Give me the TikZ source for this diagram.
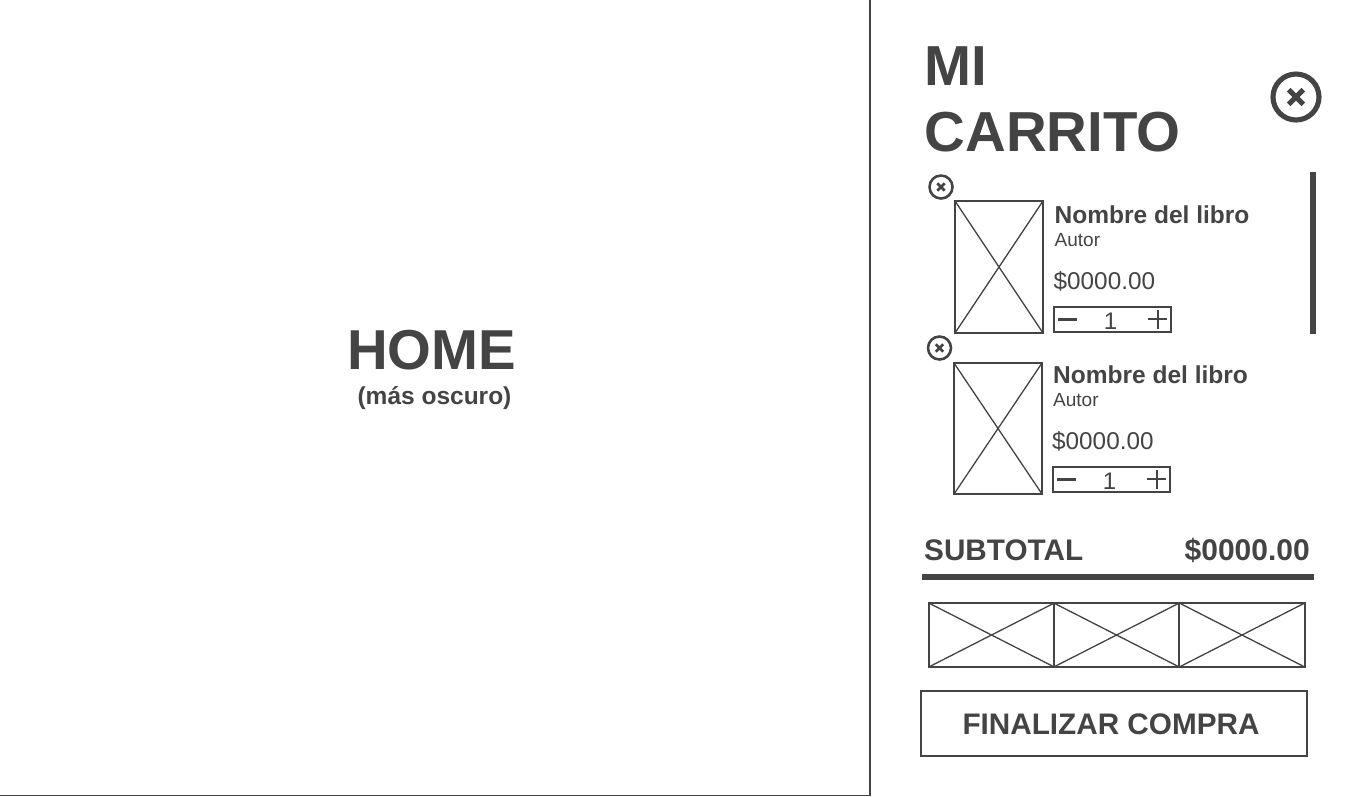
\documentclass[tikz,border=0pt]{standalone}
\usepackage{xcolor}
\usepackage{fontspec}
\setmainfont{Liberation Sans}
\usetikzlibrary{positioning}
\definecolor{wiregray}{HTML}{444444}

\tikzset{
  label/.style={inner sep=0pt, text=wiregray, font=\fontsize{#1}{#1}\selectfont},
  boldlabel/.style={inner sep=0pt, text=wiregray, font=\fontsize{#1}{#1}\selectfont\bfseries},
  imgbox/.style={draw=wiregray, line width=1.8pt, inner sep=0pt, path picture={
    \draw[wiregray, line width=1.3pt] (path picture bounding box.north west) -- (path picture bounding box.south east);
    \draw[wiregray, line width=1.3pt] (path picture bounding box.south west) -- (path picture bounding box.north east);}},
  closeicon/.style={circle, draw=wiregray, line width=#1/9*1pt, minimum size=#1*1pt, inner sep=0pt, path picture={
    \draw[wiregray, line width=#1/9*1pt] ([shift={(-#1*.16,-#1*.16)}]path picture bounding box.center) -- ([shift={(#1*.16,#1*.16)}]path picture bounding box.center);
    \draw[wiregray, line width=#1/9*1pt] ([shift={(-#1*.16,#1*.16)}]path picture bounding box.center) -- ([shift={(#1*.16,-#1*.16)}]path picture bounding box.center);}},
  qtybox/.style={draw=wiregray, line width=1.8pt, minimum width=117pt, minimum height=25pt, inner sep=0pt},
  bar/.style={fill=wiregray, inner sep=0pt, minimum width=#1},
}

\begin{document}
\begin{tikzpicture}[x=1pt, y=-1pt]
  \useasboundingbox[fill=white] (0,0) rectangle (1362,796);

  % home panel
  \coordinate (paneltop) at (870,0);
  \coordinate (panelcorner) at (870,795.5);
  \coordinate (panelbottom) at (870,796);
  \coordinate (panelleft) at (0,795.5);
  \draw[wiregray, line width=2pt] (paneltop) -- (panelbottom);
  \draw[wiregray, line width=1.2pt] (panelleft) -- (panelcorner);
  \node[boldlabel=56.3] (hometitle) at (431.5,350) {HOME};
  \node[boldlabel=24.5] (homenote) at (434.5,398.5) {(más oscuro)};

  % header
  \node[inner sep=0pt, text=wiregray, font=\fontsize{56.4}{66}\selectfont\bfseries, anchor=base west, align=left] (carttitle) at (924.5,151)
    {MI\\CARRITO};
  \node[closeicon=46] (closecart) at (1296,97) {};

  % first book
  \node[closeicon=23] (closeA) at (941,187) {};
  \node[imgbox, minimum width=88pt, minimum height=132pt] (coverA) at (999,267) {};
  \node[boldlabel=24.5, anchor=base west] (nameA) at (1054.5,223) {Nombre del libro};
  \node[label=19, anchor=base west] (authorA) at (1054.5,246) {Autor};
  \node[label=24.3, anchor=base west] (priceA) at (1053.5,289) {\$0000.00};
  \node[qtybox] (qtyA) at (1112.5,319.5) {};
  \node[label=24] (countA) at (1110.5,321) {1};
  \draw[wiregray, line width=3pt] ([xshift=5pt, yshift=0.5pt]qtyA.west) -- ([xshift=24pt, yshift=0.5pt]qtyA.west);
  \draw[wiregray, line width=2pt] ([xshift=-23.5pt, yshift=0.5pt]qtyA.east) -- ([xshift=-4.5pt, yshift=0.5pt]qtyA.east);
  \draw[wiregray, line width=2pt] ([xshift=-14pt, yshift=-9pt]qtyA.east) -- ([xshift=-14pt, yshift=10pt]qtyA.east);
  \node[bar=6pt, minimum height=162pt] (scrollbar) at (1313,253) {};

  % second book
  \node[closeicon=23] (closeB) at (939.5,348) {};
  \node[imgbox, minimum width=88pt, minimum height=131pt] (coverB) at (998,428.5) {};
  \node[boldlabel=24.5, anchor=base west] (nameB) at (1053,383) {Nombre del libro};
  \node[label=19, anchor=base west] (authorB) at (1053,406) {Autor};
  \node[label=24.3, anchor=base west] (priceB) at (1052,449) {\$0000.00};
  \node[qtybox] (qtyB) at (1111.5,479.5) {};
  \node[label=24] (countB) at (1109.5,481) {1};
  \draw[wiregray, line width=3pt] ([xshift=5pt, yshift=0.5pt]qtyB.west) -- ([xshift=24pt, yshift=0.5pt]qtyB.west);
  \draw[wiregray, line width=2pt] ([xshift=-23.5pt, yshift=0.5pt]qtyB.east) -- ([xshift=-4.5pt, yshift=0.5pt]qtyB.east);
  \draw[wiregray, line width=2pt] ([xshift=-14pt, yshift=-9pt]qtyB.east) -- ([xshift=-14pt, yshift=10pt]qtyB.east);

  % totals
  \node[boldlabel=29.7, anchor=base west] (subtotal) at (924,560) {SUBTOTAL};
  \node[boldlabel=30, anchor=base east] (total) at (1310,560) {\$0000.00};
  \node[bar=392pt, minimum height=6pt] (totalrule) at (1118,577) {};

  % payment logos
  \node[imgbox, minimum width=125.5pt, minimum height=64pt] (payA) at (991.5,635) {};
  \node[imgbox, minimum width=125.5pt, minimum height=64pt] (payB) at (1116.5,635) {};
  \node[imgbox, minimum width=125.5pt, minimum height=64pt] (payC) at (1242,635) {};

  % checkout
  \node[draw=wiregray, line width=2pt, minimum width=386pt, minimum height=65pt, inner sep=0pt] (checkout) at (1114,723.5) {};
  \node[boldlabel=29.7] (checkoutlabel) at (1111,724.5) {FINALIZAR COMPRA};
\end{tikzpicture}
\end{document}
